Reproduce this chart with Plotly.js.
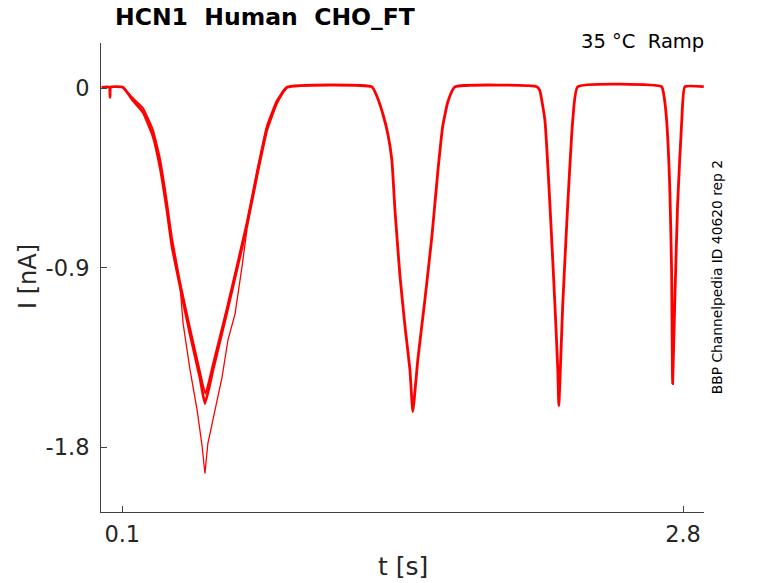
<!DOCTYPE html>
<html>
<head>
<meta charset="utf-8">
<script src="https://cdn.plot.ly/plotly-3.0.1.min.js"></script>
<style>
  html, body { margin: 0; padding: 0; background: #fff; }
  #plot { width: 778px; height: 583px; }
</style>
</head>
<body>
<div id="plot"></div>
<script>
// sweep 1: full recording
const t1 = [0, 0.038, 0.041, 0.044, 0.103, 0.151, 0.200, 0.248, 0.281, 0.315, 0.339, 0.378,
    0.426, 0.474, 0.498, 0.537, 0.604, 0.700, 0.748, 0.796, 0.845, 0.893,
    1.302, 1.326, 1.355, 1.379, 1.398, 1.413, 1.437, 1.461, 1.485, 1.499,
    1.523, 1.557, 1.591, 1.620, 1.643, 1.667, 1.701,
    2.096, 2.110, 2.135, 2.159, 2.183, 2.197, 2.202, 2.221, 2.245, 2.269, 2.293,
    2.697, 2.707, 2.721, 2.736, 2.745, 2.750, 2.760, 2.774, 2.794, 2.809, 2.900];
const i1 = [0.005, 0.006, -0.045, 0.006, 0.005, -0.06, -0.12, -0.24, -0.39, -0.61, -0.79, -0.99,
    -1.23, -1.45, -1.58, -1.41, -1.12, -0.69, -0.44, -0.21, -0.07, 0.005,
    0.007, -0.04, -0.13, -0.23, -0.36, -0.61, -0.94, -1.19, -1.41, -1.62,
    -1.36, -1.06, -0.74, -0.41, -0.19, -0.07, 0.007,
    0.008, -0.01, -0.16, -0.58, -1.08, -1.41, -1.59, -1.08, -0.58, -0.16, 0.008,
    0.008, -0.03, -0.16, -0.49, -0.91, -1.48, -1.08, -0.58, -0.16, 0.008, 0.008];

// sweep 2: the deeper first ramp (thin branch)
const t2 = [0.378, 0.393, 0.426, 0.460, 0.484, 0.498, 0.512, 0.546, 0.580, 0.609, 0.643, 0.677, 0.700];
const i2 = [-0.99, -1.18, -1.41, -1.61, -1.79, -1.93, -1.78, -1.61, -1.45, -1.26, -1.13, -0.89, -0.71];

// sweep 3: first ramp, slightly shifted
const t3 = [0.103, 0.151, 0.200, 0.248, 0.281, 0.315, 0.339, 0.378, 0.426, 0.474, 0.500,
    0.537, 0.604, 0.700, 0.748, 0.796, 0.845, 0.893];
const i3 = [0.005, -0.05, -0.10, -0.21, -0.35, -0.57, -0.75, -0.97, -1.20, -1.42, -1.53,
    -1.38, -1.10, -0.67, -0.42, -0.19, -0.06, 0.005];

const xTicks = [0.1, 2.8];
const xTickText = ["0.1", "2.8"];
const yTicks = [0, -0.9, -1.8];
const yTickText = ["0", "-0.9", "-1.8"];

const red = "#ff0000";
const font = "DejaVu Sans, sans-serif";

const traces = [
    {x: t1, y: i1, type: "scatter", mode: "lines",
     line: {color: red, width: 2.8, shape: "spline", smoothing: 0.4}, hoverinfo: "skip"},
    {x: t3, y: i3, type: "scatter", mode: "lines",
     line: {color: red, width: 2, shape: "spline", smoothing: 0.4}, hoverinfo: "skip"},
    {x: t2, y: i2, type: "scatter", mode: "lines",
     line: {color: red, width: 1.3}, hoverinfo: "skip"}
];

const axisCommon = {
    showgrid: false,
    zeroline: false,
    showline: true,
    linecolor: "#404040",
    linewidth: 1,
    ticks: "inside",
    ticklen: 6,
    tickcolor: "#404040",
    tickfont: {family: font, size: 22.5, color: "#262626"},
    fixedrange: true
};

const layout = {
    width: 778,
    height: 583,
    margin: {l: 101, r: 74, t: 43, b: 71},
    paper_bgcolor: "#fff",
    plot_bgcolor: "#fff",
    showlegend: false,
    xaxis: Object.assign({}, axisCommon, {
        range: [-0.0025, 2.901],
        tickvals: xTicks,
        ticktext: xTickText,
        ticklabelstandoff: 2
    }),
    yaxis: Object.assign({}, axisCommon, {
        range: [-2.123, 0.227],
        tickvals: yTicks,
        ticktext: yTickText,
        ticklabelstandoff: 6
    }),
    annotations: [
        {text: "<b>HCN1  Human  CHO_FT</b>", xref: "paper", yref: "paper",
         x: 0.02, y: 1.055, xanchor: "left", yanchor: "middle", showarrow: false,
         font: {family: font, size: 23.5, color: "#000"}},
        {text: "35 °C  Ramp", xref: "paper", yref: "paper",
         x: 1.004, y: 1.004, xanchor: "right", yanchor: "middle", showarrow: false,
         font: {family: font, size: 19.5, color: "#000"}},
        {text: "BBP Channelpedia ID 40620 rep 2", xref: "paper", yref: "paper",
         x: 1.021, y: 0.5, xanchor: "center", yanchor: "middle", textangle: -90,
         showarrow: false, font: {family: font, size: 13.8, color: "#000"}},
        {text: "I [nA]", xref: "paper", yref: "paper",
         x: -0.121, y: 0.501, xanchor: "center", yanchor: "middle", textangle: -90,
         showarrow: false, font: {family: font, size: 24, color: "#262626"}},
        {text: "t [s]", xref: "paper", yref: "paper",
         x: 0.5008, y: -0.117, xanchor: "center", yanchor: "middle",
         showarrow: false, font: {family: font, size: 25, color: "#262626"}}
    ]
};

Plotly.newPlot("plot", traces, layout, {staticPlot: true});
</script>
</body>
</html>
